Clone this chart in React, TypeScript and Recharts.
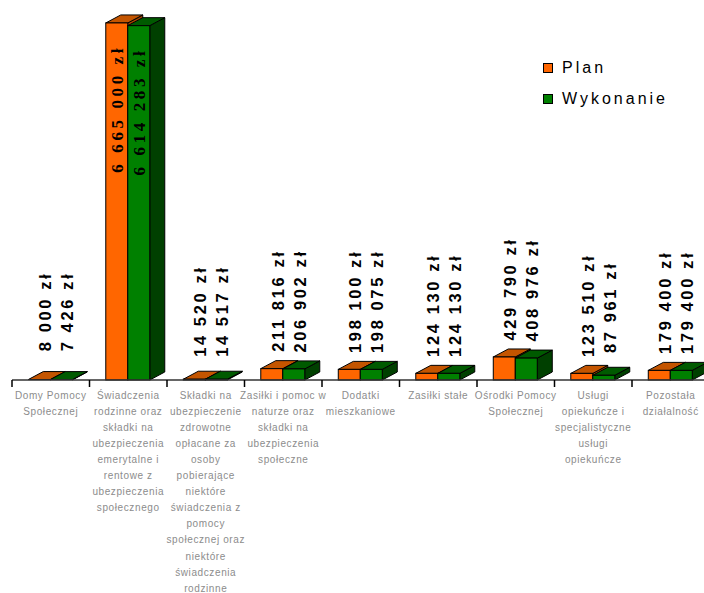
import React from 'react';
import { BarChart, Bar, XAxis, YAxis, LabelList, Legend } from 'recharts';

const categoryLines: string[][] = [
  ['Domy Pomocy', 'Społecznej'],
  ['Świadczenia', 'rodzinne oraz', 'składki na', 'ubezpieczenia', 'emerytalne i', 'rentowe z', 'ubezpieczenia', 'społecznego'],
  ['Składki na', 'ubezpieczenie', 'zdrowotne', 'opłacane za', 'osoby', 'pobierające', 'niektóre', 'świadczenia z', 'pomocy', 'społecznej oraz', 'niektóre', 'świadczenia', 'rodzinne'],
  ['Zasiłki i pomoc w', 'naturze oraz', 'składki na', 'ubezpieczenia', 'społeczne'],
  ['Dodatki', 'mieszkaniowe'],
  ['Zasiłki stałe'],
  ['Ośrodki Pomocy', 'Społecznej'],
  ['Usługi', 'opiekuńcze i', 'specjalistyczne', 'usługi', 'opiekuńcze'],
  ['Pozostała', 'działalność'],
];

const planValues = [8000, 6665000, 14520, 211816, 198100, 124130, 429790, 123510, 179400];
const wykonanieValues = [7426, 6614283, 14517, 206902, 198075, 124130, 408976, 87961, 179400];

const data = categoryLines.map((lines, i) => ({
  name: lines.join('\n'),
  plan: planValues[i],
  wykonanie: wykonanieValues[i],
}));

const CHART_W = 720;
const CHART_H = 593;
const MARGIN = { top: 5, right: 10.5, left: 12, bottom: 0 };
const XAXIS_H = 213;
const PLOT_BOTTOM = CHART_H - XAXIS_H;
const BAND = (CHART_W - MARGIN.left - MARGIN.right) / categoryLines.length;

const fmt = (v: number) => String(v).replace(/\B(?=(\d{3})+(?!\d))/g, ' ') + ' zł';

const make3D = (front: string, top: string, side: string) => (props: any) => {
  const { x, y, width, height } = props;
  if (x == null || y == null) return null;
  const dx = 15;
  const dy = 8;
  const h = Math.max(height, 0);
  return (
    <g>
      <polygon
        points={`${x + width},${y} ${x + width + dx},${y - dy} ${x + width + dx},${y + h - dy} ${x + width},${y + h}`}
        fill={side}
        stroke="#000"
        strokeWidth={1}
      />
      <polygon
        points={`${x},${y} ${x + dx},${y - dy} ${x + width + dx},${y - dy} ${x + width},${y}`}
        fill={top}
        stroke="#000"
        strokeWidth={1}
      />
      {h > 0.5 && <rect x={x} y={y} width={width} height={h} fill={front} stroke="#000" strokeWidth={1} />}
    </g>
  );
};

const renderLabel = (props: any) => {
  const { x, y, width, height, value } = props;
  if (x == null || y == null) return null;
  if (height > 200) {
    const cx = x + width / 2 + 1;
    return (
      <text
        transform={`translate(${cx},${y + 22}) rotate(-90)`}
        textAnchor="end"
        dominantBaseline="central"
        fontFamily="'Liberation Serif', serif"
        fontWeight="bold"
        fontSize={17}
        letterSpacing={3.6}
        fill="#000"
      >
        {fmt(value)}
      </text>
    );
  }
  const cx = x + width / 2 + 6;
  return (
    <text
      transform={`translate(${cx},${y - 68}) rotate(-90)`}
      textAnchor="middle"
      dominantBaseline="central"
      fontFamily="'Liberation Sans', Arial, sans-serif"
      fontWeight="bold"
      fontSize={16.5}
      letterSpacing={2.6}
      fill="#000"
    >
      {fmt(value)}
    </text>
  );
};

const CategoryTick = (props: any) => {
  const { x, payload, index } = props;
  const lines = String(payload.value).split('\n');
  const left = x - BAND / 2;
  return (
    <g>
      <line x1={left} y1={PLOT_BOTTOM} x2={left} y2={PLOT_BOTTOM + 7} stroke="#000" strokeWidth={1.5} />
      {index === categoryLines.length - 1 && (
        <line x1={x + BAND / 2} y1={PLOT_BOTTOM} x2={x + BAND / 2} y2={PLOT_BOTTOM + 7} stroke="#000" strokeWidth={1.5} />
      )}
      {lines.map((l, i) => (
        <text
          key={i}
          x={x}
          y={PLOT_BOTTOM + 15 + i * 16.1}
          textAnchor="middle"
          dominantBaseline="central"
          fontFamily="'Liberation Sans', Arial, sans-serif"
          fontSize={10}
          letterSpacing={0.6}
          fill="#8c8c8c"
        >
          {l}
        </text>
      ))}
    </g>
  );
};

const LegendContent = (props: any) => {
  const { payload } = props;
  return (
    <div style={{ fontFamily: "'Liberation Sans', Arial, sans-serif", fontSize: 16, letterSpacing: 3, color: '#000' }}>
      {(payload || []).map((p: any, i: number) => (
        <div key={i} style={{ display: 'flex', alignItems: 'center', height: 31 }}>
          <span
            style={{
              display: 'inline-block',
              width: 8,
              height: 8,
              border: '1px solid #000',
              background: p.color,
              marginRight: 9,
            }}
          />
          <span>{p.value}</span>
        </div>
      ))}
    </div>
  );
};

export default function App() {
  return (
    <div style={{ width: 704, height: 593, overflow: 'hidden', position: 'relative' }}>
      <style>{`html,body{margin:0;padding:0;overflow:hidden;background:#fff}`}</style>
      <BarChart
        width={CHART_W}
        height={CHART_H}
        data={data}
        margin={MARGIN}
        barCategoryGap="21%"
        barGap={0}
      >
        <XAxis
          dataKey="name"
          height={XAXIS_H}
          interval={0}
          tickLine={false}
          axisLine={{ stroke: '#333', strokeWidth: 1.5 }}
          tick={<CategoryTick />}
        />
        <YAxis hide domain={[0, 7000000]} />
        <Legend
          content={<LegendContent />}
          layout="vertical"
          align="center"
          verticalAlign="middle"
          wrapperStyle={{ position: 'absolute', left: 543, top: 52, width: 150, height: 70 }}
        />
        <Bar
          dataKey="plan"
          name="Plan"
          fill="#FF6600"
          isAnimationActive={false}
          shape={make3D('#FF6600', '#C45500', '#A04000')}
        >
          <LabelList dataKey="plan" content={renderLabel} />
        </Bar>
        <Bar
          dataKey="wykonanie"
          name="Wykonanie"
          fill="#008000"
          isAnimationActive={false}
          shape={make3D('#008000', '#005A00', '#004000')}
        >
          <LabelList dataKey="wykonanie" content={renderLabel} />
        </Bar>
      </BarChart>
    </div>
  );
}
